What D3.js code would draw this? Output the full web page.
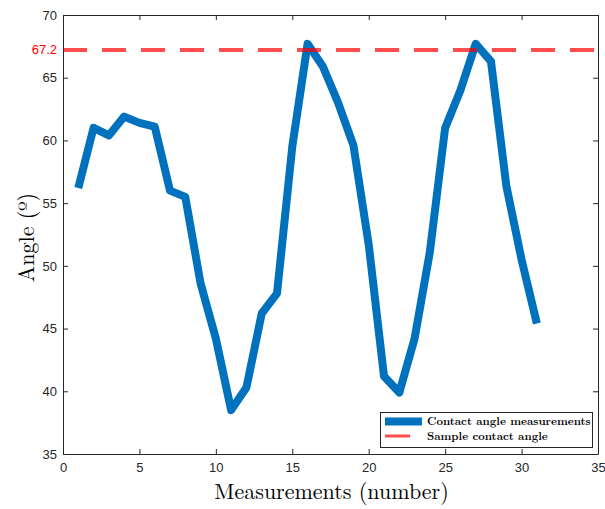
<!DOCTYPE html>
<html>
<head>
<meta charset="utf-8">
<script src="https://cdn.jsdelivr.net/npm/d3@7"></script>
<style>
  html, body { margin: 0; padding: 0; background: #fff; }
  svg { display: block; }
</style>
</head>
<body>
<script>
// Contact angle measurements, one per sample
const measurementIndex = d3.range(1, 32);
const contactAngles = [
  56.2, 61.0, 60.4, 61.9, 61.4, 61.1, 56.0, 55.5, 48.6, 44.2,
  38.5, 40.3, 46.2, 47.8, 59.5, 67.7, 65.9, 63.0, 59.6, 51.7,
  41.2, 39.9, 44.2, 51.1, 61.0, 64.0, 67.7, 66.3, 56.4, 50.5, 45.4
];
const sampleAngle = 67.2;
const xTicks = [0, 5, 10, 15, 20, 25, 30, 35];
const yTicks = [35, 40, 45, 50, 55, 60, 65, 70];
const legendLabels = ["Contact angle measurements", "Sample contact angle"];

const W = 605, H = 509;
const margin = { left: 63, right: 7, top: 15, bottom: 55 };
const pw = W - margin.left - margin.right;
const ph = H - margin.top - margin.bottom;

const svg = d3.select("body").append("svg").attr("width", W).attr("height", H);

const x = d3.scaleLinear().domain([0, 35]).range([margin.left, margin.left + pw]);
const y = d3.scaleLinear().domain([35, 70]).range([margin.top + ph, margin.top]);

const axisColor = "#262626";
const tickFont = "Liberation Sans, Arial, sans-serif";

// Data line
const line = d3.line().x((d, i) => x(measurementIndex[i])).y(d => y(d));
svg.append("path")
  .datum(contactAngles)
  .attr("d", line)
  .attr("fill", "none")
  .attr("stroke", "#0072BD")
  .attr("stroke-width", 8)
  .attr("stroke-linejoin", "round");

// Reference line for the sample contact angle
svg.append("line")
  .attr("x1", x(0)).attr("x2", x(35))
  .attr("y1", y(sampleAngle)).attr("y2", y(sampleAngle))
  .attr("stroke", "rgb(255,0,0)")
  .attr("stroke-opacity", 0.7)
  .attr("stroke-width", 4)
  .attr("stroke-dasharray", "24 15");

// Axes (box with inward ticks)
function styleAxis(g) {
  g.select(".domain").attr("stroke", axisColor).attr("stroke-width", 1);
  g.selectAll(".tick line").attr("stroke", axisColor).attr("stroke-width", 1);
  g.selectAll(".tick text").attr("fill", axisColor)
    .attr("font-family", tickFont).attr("font-size", 13);
}

const gx = svg.append("g")
  .attr("transform", `translate(0,${margin.top + ph})`)
  .call(d3.axisBottom(x).tickValues(xTicks).tickSizeInner(-5).tickSizeOuter(0).tickPadding(9));
styleAxis(gx);

const gxTop = svg.append("g")
  .attr("transform", `translate(0,${margin.top})`)
  .call(d3.axisTop(x).tickValues(xTicks).tickSizeInner(-5).tickSizeOuter(0).tickFormat(""));
styleAxis(gxTop);

const gy = svg.append("g")
  .attr("transform", `translate(${margin.left},0)`)
  .call(d3.axisLeft(y).tickValues(yTicks).tickSizeInner(-5).tickSizeOuter(0).tickPadding(6));
styleAxis(gy);

const gyRight = svg.append("g")
  .attr("transform", `translate(${margin.left + pw},0)`)
  .call(d3.axisRight(y).tickValues(yTicks).tickSizeInner(-5).tickSizeOuter(0).tickFormat(""));
styleAxis(gyRight);

// Red tick label for the sample angle
svg.append("text")
  .attr("x", margin.left - 6)
  .attr("y", y(sampleAngle))
  .attr("dy", "0.32em")
  .attr("text-anchor", "end")
  .attr("font-family", tickFont)
  .attr("font-size", 13)
  .attr("fill", "#ff0000")
  .text(sampleAngle.toFixed(1));

// Axis titles
const serif = "Latin Modern Roman, CMU Serif, DejaVu Serif, serif";
svg.append("text")
  .attr("x", x(17.5) + 1)
  .attr("y", 499)
  .attr("text-anchor", "middle")
  .attr("font-family", serif)
  .attr("font-size", 22)
  .attr("fill", "#000")
  .text("Measurements (number)");

svg.append("text")
  .attr("transform", `translate(34,${y(52.5) + 3}) rotate(-90)`)
  .attr("text-anchor", "middle")
  .attr("font-family", serif)
  .attr("font-size", 22)
  .attr("fill", "#000")
  .text("Angle (º)");

// Legend
const lg = svg.append("g");
lg.append("rect")
  .attr("x", 380.5).attr("y", 412.5)
  .attr("width", 212).attr("height", 35)
  .attr("fill", "#fff").attr("stroke", axisColor).attr("stroke-width", 1);

lg.append("line")
  .attr("x1", 385).attr("x2", 422).attr("y1", 421.5).attr("y2", 421.5)
  .attr("stroke", "#0072BD").attr("stroke-width", 8);
lg.append("line")
  .attr("x1", 385).attr("x2", 410).attr("y1", 436).attr("y2", 436)
  .attr("stroke", "rgb(255,0,0)").attr("stroke-opacity", 0.7).attr("stroke-width", 3);

lg.selectAll("text.leg")
  .data(legendLabels)
  .join("text")
  .attr("class", "leg")
  .attr("x", 427)
  .attr("y", (d, i) => 421.5 + i * 14.5)
  .attr("dy", "0.35em")
  .attr("font-family", serif)
  .attr("font-weight", "bold")
  .attr("font-size", 11.3)
  .attr("fill", "#000")
  .text(d => d);
</script>
</body>
</html>
